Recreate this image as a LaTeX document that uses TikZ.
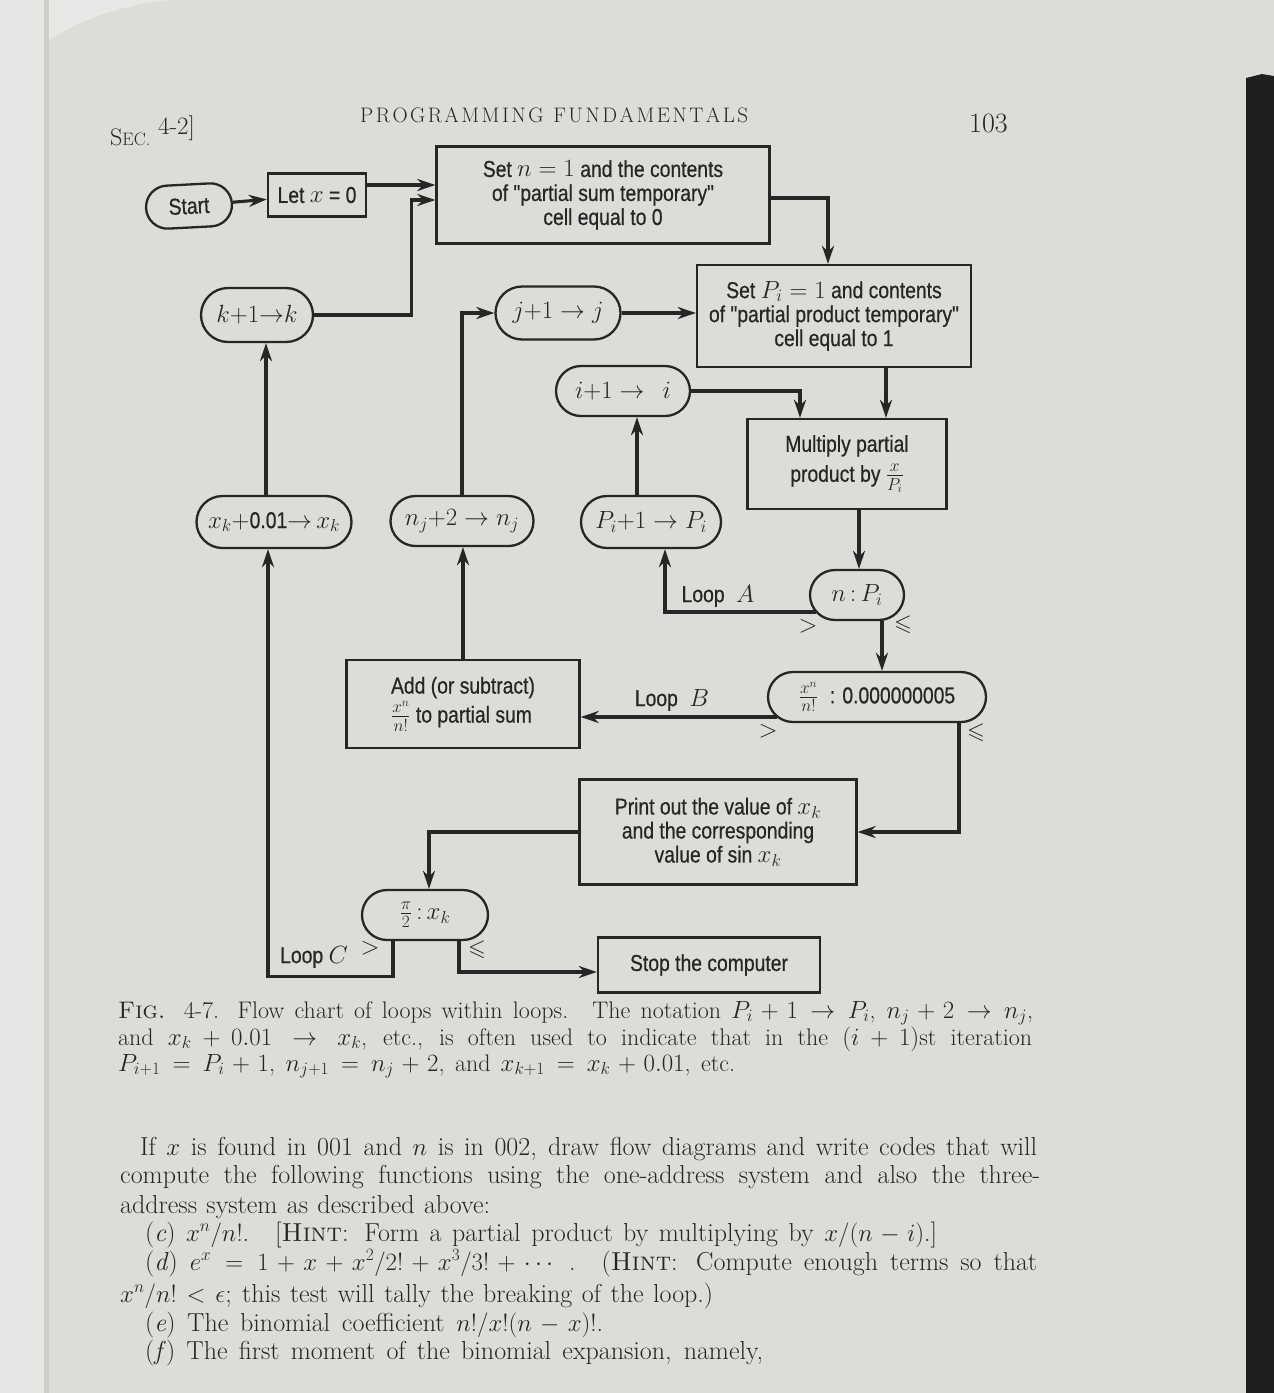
\documentclass[tikz,border=0pt]{standalone}
\usepackage{amsmath,amssymb}
\usepackage{fontspec}
\newfontfamily\dsf[FakeStretch=0.84,FakeBold=0.6]{Liberation Sans}
\usetikzlibrary{shapes.misc,calc,arrows.meta}
\definecolor{inkc}{HTML}{262626}
\definecolor{pagec}{HTML}{DDDCD8}
\definecolor{leftc}{HTML}{E6E6E4}
\definecolor{gutterc}{HTML}{CFCECA}
\definecolor{topc}{HTML}{E8E8E6}
\definecolor{spinec}{HTML}{1F1F1F}
\newcommand{\hg}{\hspace{0pt plus 1fil}}
\tikzset{
  dfont/.style={font=\dsf\fontsize{23}{24}\selectfont},
  procbox/.style={dfont, draw=inkc, line width=2.3pt, rectangle, inner sep=0pt, align=center, text=inkc},
  stadium/.style={dfont, draw=inkc, line width=2.3pt, rounded rectangle, inner sep=0pt, align=center, text=inkc},
  arr/.style={draw=inkc, line width=3.1pt, -{Stealth[length=18pt,width=12pt]}},
  lbl/.style={dfont, text=inkc, inner sep=0pt},
  headl/.style={text=inkc, inner sep=0pt, anchor=base west},
  capl/.style={text=inkc, inner sep=0pt, anchor=base west, font=\fontsize{24}{26}\selectfont},
  bodyl/.style={text=inkc, inner sep=0pt, anchor=base west, font=\fontsize{26}{30}\selectfont}
}
\begin{document}
\begin{tikzpicture}[x=1pt,y=-1pt]
% page background
\path[use as bounding box, fill=pagec] (0,0) rectangle (1274,1393);
\fill[leftc] (0,0) rectangle (46,1393);
\fill[gutterc] (44,0) rectangle (49,1393);
\fill[topc] (49,0) -- (49,40) .. controls (80,20) and (120,5) .. (170,0) -- cycle;
\fill[spinec] (1246,78) -- (1262,74) -- (1274,76) -- (1274,1393) -- (1246,1393) -- cycle;

% running head
\node[headl, font=\fontsize{24}{26}\selectfont] (sec) at (110,145) {S{\fontsize{18}{20}\selectfont EC.}};
\node[headl, font=\fontsize{25}{26}\selectfont] (secn) at (158,134) {4-2]};
\node[headl, font=\fontsize{21}{24}\selectfont] (head) at (360,122) {\makebox[388pt][s]{P\hg R\hg O\hg G\hg R\hg A\hg M\hg M\hg I\hg N\hg G\hg\hg\hg\hg F\hg U\hg N\hg D\hg A\hg M\hg E\hg N\hg T\hg A\hg L\hg S}};
\node[headl, font=\fontsize{28}{30}\selectfont] (pno) at (969,132) {103};

% nodes
\node[stadium, minimum width=86pt, minimum height=43pt, rotate=3] (start) at (189,206) {Start};
\node[procbox, minimum width=98pt, minimum height=43pt] (letx) at (317,195) {Let $x$ = 0};
\node[procbox, minimum width=333pt, minimum height=97pt] (setn) at (603,195) {Set $n = 1$ and the contents\\of "partial sum temporary"\\cell equal to 0};
\node[procbox, minimum width=274pt, minimum height=102pt] (setp) at (834,316) {Set $P_i = 1$ and contents\\of "partial product temporary"\\cell equal to 1};
\node[stadium, minimum width=112pt, minimum height=54pt] (kk) at (257,315) {$k{+}1{\to}k$};
\node[stadium, minimum width=125pt, minimum height=53pt] (jj) at (558,313) {$j{+}1 \to j$};
\node[stadium, minimum width=134pt, minimum height=50pt] (ii) at (623,391) {$i{+}1 \to\;\, i$};
\node[procbox, minimum width=199pt, minimum height=90pt] (mult) at (847,464) {Multiply partial\\[6pt]product by $\frac{x}{P_i}$};
\node[stadium, minimum width=155pt, minimum height=52pt] (xk) at (274,522) {$x_k{+}$0.01${\to}\,x_k$};
\node[stadium, minimum width=143pt, minimum height=50pt] (nj) at (462,521) {$n_j{+}2 \to n_j$};
\node[stadium, minimum width=140pt, minimum height=52pt] (pi) at (651,522) {$P_i{+}1 \to P_i$};
\node[stadium, minimum width=94pt, minimum height=50pt] (nP) at (857,595) {$n\,{:}\,P_i$};
\node[stadium, minimum width=218pt, minimum height=50pt] (xn) at (877,697) {$\frac{x^n}{n!}$\enspace: 0.000000005};
\node[procbox, minimum width=233pt, minimum height=88pt, align=left] (add) at (463,704) {Add (or subtract)\\[2pt]$\frac{x^n}{n!}$ to partial sum};
\node[procbox, minimum width=277pt, minimum height=105pt] (print) at (718,832) {Print out the value of $x_k$\\and the corresponding\\value of sin $x_k$};
\node[stadium, minimum width=126pt, minimum height=50pt] (pi2) at (425,915) {$\frac{\pi}{2}\,{:}\,x_k$};
\node[procbox, minimum width=222pt, minimum height=55pt] (stop) at (709,965) {Stop the computer};

% labels
\node[lbl] (la) at (718,596) {Loop\enspace$A$};
\node[lbl] (lb) at (672,700) {Loop\enspace$B$};
\node[lbl] (lc) at (314,957) {Loop $C$};
\node[lbl] (ga) at (808,626) {$>$};
\node[lbl] (gb) at (768,731) {$>$};
\node[lbl] (gc) at (370,948) {$>$};
\node[lbl] (sa) at (903,625) {$\leqslant$};
\node[lbl] (sb) at (976,733) {$\leqslant$};
\node[lbl] (sc) at (477,950) {$\leqslant$};

% connectors
\draw[arr] (start) -- (letx);
\draw[arr] ($(letx.east)+(0,-10)$) -- ($(setn.west)+(0,-10)$);
\draw[arr] (kk.east) -| ($(setn.west)+(-24,5)$) -- ($(setn.west)+(0,5)$);
\draw[arr] ($(setn.east)+(0,3)$) -| ($(setp.north)+(-6,0)$);
\draw[arr] (jj.east) -- (jj.east -| setp.west);
\draw[arr] (nj.north) |- (jj.west);
\draw[arr] (ii.east) -| ($(mult.north)+(-47,0)$);
\draw[arr] ($(setp.south)+(52,0)$) -- ($(mult.north)+(39,0)$);
\draw[arr] ($(pi.north)+(-14,0)$) -- ($(ii.south)+(14,0)$);
\draw[arr] ($(xk.north)+(-8,0)$) -- ($(kk.south)+(9,0)$);
\draw[arr] ($(mult.south)+(12,0)$) -- ($(nP.north)+(2,0)$);
\draw[arr] ($(nP.west)+(7,17)$) -| ($(pi.south)+(14,0)$);
\draw[arr] ($(nP.south)+(25,0)$) -- ($(xn.north)+(5,0)$);
\draw[arr] ($(xn.west)+(10,20)$) -- ($(add.east)+(0,13)$);
\draw[arr] (add.north) -- (add.north |- nj.south);
\draw[arr] ($(xn.south)+(82,0)$) |- (print.east);
\draw[arr] (print.west) -| ($(pi2.north)+(4,0)$);
\draw[arr] ($(pi2.south)+(-32,0)$) -- ++(0,35) -| ($(xk.south)+(-6,0)$);
\draw[arr] ($(pi2.south)+(34,0)$) |- ($(stop.west)+(0,7)$);

% caption
\node[capl] (c1) at (118,1018) {\makebox[915pt][s]{\textsc{Fig.} 4-7. Flow chart of loops within loops.\quad The notation $P_i+1\rightarrow P_i$, $n_j+2\rightarrow n_j$,}};
\node[capl] (c2) at (118,1045) {\makebox[914pt][s]{and $x_k+0.01\rightarrow x_k$, etc., is often used to indicate that in the $(i+1)$st iteration}};
\node[capl] (c3) at (118,1071) {\makebox[617pt][s]{$P_{i+1}=P_i+1$, $n_{j+1}=n_j+2$, and $x_{k+1}=x_k+0.01$, etc.}};

% body text
\node[bodyl] (b1) at (140,1155) {\makebox[897pt][s]{If $x$ is found in 001 and $n$ is in 002, draw flow diagrams and write codes that will}};
\node[bodyl] (b2) at (120,1183) {\makebox[920pt][s]{compute the following functions using the one-address system and also the three-}};
\node[bodyl] (b3) at (120,1213) {\makebox[370pt][s]{address system as described above:}};
\node[bodyl] (b4) at (145,1241) {\makebox[792pt][s]{(\textit{c}) $x^n/n!$.\quad [\textsc{Hint}: Form a partial product by multiplying by $x/(n-i)$.]}};
\node[bodyl] (b5) at (145,1270) {\makebox[892pt][s]{(\textit{d}) $e^x=1+x+x^2/2!+x^3/3!+\cdots$ .\quad (\textsc{Hint}: Compute enough terms so that}};
\node[bodyl] (b6) at (120,1302) {\makebox[593pt][s]{$x^n/n!<\epsilon$; this test will tally the breaking of the loop.)}};
\node[bodyl] (b7) at (145,1331) {\makebox[458pt][s]{(\textit{e}) The binomial coefficient $n!/x!(n-x)!$.}};
\node[bodyl] (b8) at (145,1359) {\makebox[618pt][s]{(\textit{f}) The first moment of the binomial expansion, namely,}};
\end{tikzpicture}
\end{document}
